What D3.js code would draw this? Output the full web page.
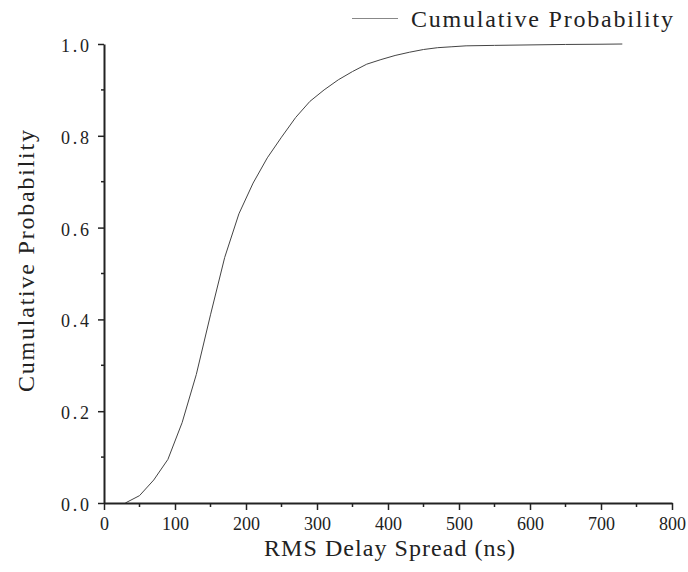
<!DOCTYPE html>
<html>
<head>
<meta charset="utf-8">
<script src="https://cdn.jsdelivr.net/npm/d3@7"></script>
<style>
  html, body { margin: 0; padding: 0; background: #fff; }
  svg { display: block; }
  text { font-family: "Liberation Serif", "DejaVu Serif", serif; fill: #222; }
</style>
</head>
<body>
<svg id="chart" width="688" height="572"></svg>
<script>
// RMS delay spread CDF
const delaySpread = [30, 50, 70, 90, 110, 130, 150, 170, 190, 210, 230, 250, 270, 290,
  310, 330, 350, 370, 390, 410, 430, 450, 470, 490, 510, 550, 600, 650, 700, 730];
const cumulativeProb = [0, 0.016, 0.05, 0.095, 0.175, 0.28, 0.41, 0.535, 0.63, 0.697,
  0.752, 0.797, 0.84, 0.875, 0.9, 0.922, 0.94, 0.956, 0.966, 0.975, 0.982, 0.988,
  0.992, 0.994, 0.996, 0.997, 0.998, 0.999, 0.9995, 1.0];
const xTicks = [0, 100, 200, 300, 400, 500, 600, 700, 800];
const xMinorTicks = [50, 150, 250, 350, 450, 550, 650, 750];
const yTicks = [0, 0.2, 0.4, 0.6, 0.8, 1.0];
const yMinorTicks = [0.1, 0.3, 0.5, 0.7, 0.9];
const seriesName = "Cumulative Probability";

const svg = d3.select("#chart");
const plotLeft = 104, plotRight = 672, plotTop = 44, plotBottom = 503;

const x = d3.scaleLinear().domain([0, 800]).range([plotLeft, plotRight]);
const y = d3.scaleLinear().domain([0, 1]).range([plotBottom, plotTop]);

// curve
const line = d3.line()
  .x((d, i) => x(delaySpread[i]))
  .y((d) => y(d));

svg.append("path")
  .datum(cumulativeProb)
  .attr("d", line)
  .attr("fill", "none")
  .attr("stroke", "#444")
  .attr("stroke-width", 1);

// x axis
const xAxis = svg.append("g").attr("transform", `translate(0,${plotBottom})`);
xAxis.call(d3.axisBottom(x).tickValues(xTicks).tickSize(7).tickSizeOuter(0).tickFormat(d3.format("d")));
xAxis.append("g").selectAll("line")
  .data(xMinorTicks)
  .join("line")
  .attr("x1", (d) => x(d)).attr("x2", (d) => x(d))
  .attr("y1", 0).attr("y2", 4)
  .attr("stroke", "#222").attr("stroke-width", 1.5);

// y axis
const yAxis = svg.append("g").attr("transform", `translate(${plotLeft},0)`);
yAxis.call(d3.axisLeft(y).tickValues(yTicks).tickSize(6).tickSizeOuter(0).tickFormat(d3.format(".1f")));
yAxis.append("g").selectAll("line")
  .data(yMinorTicks)
  .join("line")
  .attr("x1", 0).attr("x2", -3)
  .attr("y1", (d) => y(d)).attr("y2", (d) => y(d))
  .attr("stroke", "#222").attr("stroke-width", 1.5);

svg.selectAll(".domain").attr("stroke", "#222").attr("stroke-width", 2);
svg.selectAll(".tick line").attr("stroke", "#222").attr("stroke-width", 1.5);

xAxis.selectAll(".tick text")
  .attr("font-family", "Liberation Serif")
  .attr("font-size", 18)
  .attr("fill", "#222")
  .attr("y", 27)
  .attr("dy", 0);

yAxis.selectAll(".tick text")
  .attr("font-family", "Liberation Serif")
  .attr("font-size", 18)
  .attr("fill", "#222")
  .attr("x", -15)
  .attr("dy", "0.42em")
  .attr("textLength", 28)
  .attr("lengthAdjust", "spacing");

// axis titles
svg.append("text")
  .attr("x", 264)
  .attr("y", 556)
  .attr("font-size", 24)
  .attr("textLength", 251)
  .attr("lengthAdjust", "spacing")
  .text("RMS Delay Spread (ns)");

svg.append("text")
  .attr("transform", "translate(34,392) rotate(-90)")
  .attr("font-size", 24)
  .attr("textLength", 262)
  .attr("lengthAdjust", "spacing")
  .text("Cumulative Probability");

// legend
svg.append("line")
  .attr("x1", 352).attr("x2", 398)
  .attr("y1", 18.5).attr("y2", 18.5)
  .attr("stroke", "#888").attr("stroke-width", 1.2);

svg.append("text")
  .attr("x", 411)
  .attr("y", 27)
  .attr("font-size", 24)
  .attr("textLength", 262)
  .attr("lengthAdjust", "spacing")
  .text(seriesName);
</script>
</body>
</html>
